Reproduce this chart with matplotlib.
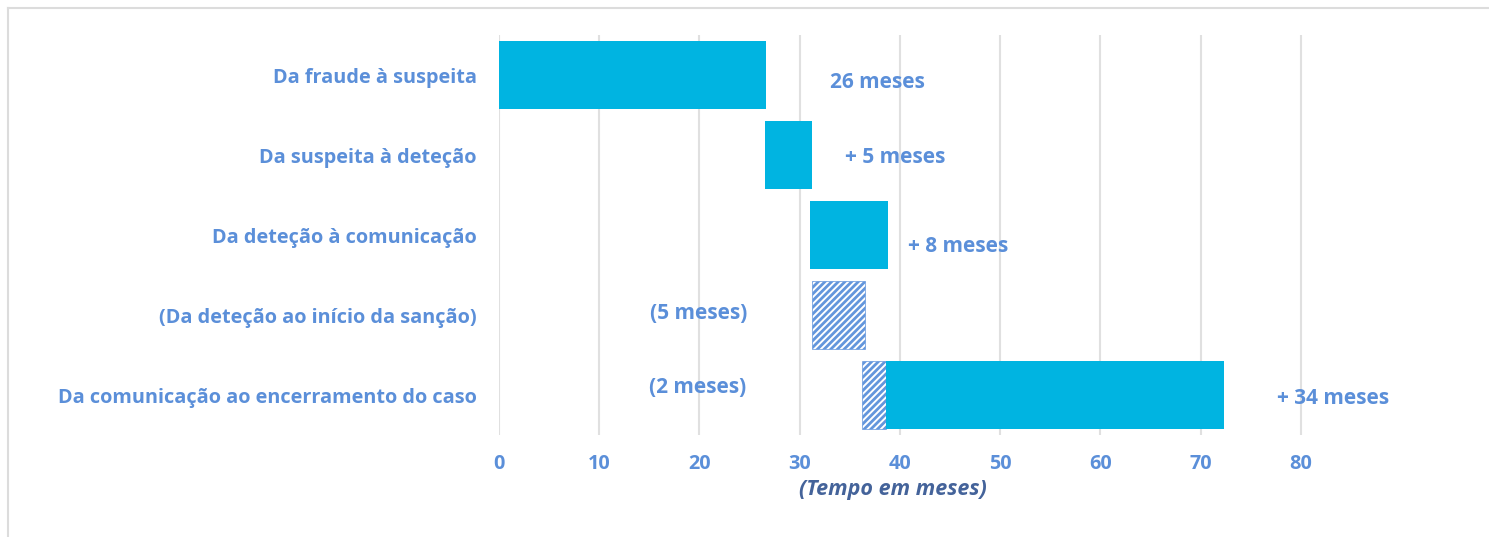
import matplotlib.pyplot as plt
from matplotlib.lines import Line2D

plt.rcParams['hatch.linewidth'] = 2.0

etapas = ["Da fraude à suspeita", "Da suspeita à deteção", "Da deteção à comunicação",
          "(Da deteção ao início da sanção)", "Da comunicação ao encerramento do caso"]
inicio = [0, 26.5, 31.0, 31.2, 38.6]
duracao = [26.6, 4.7, 7.8, 5.3, 33.7]
tracejado = [False, False, False, True, False]
# pedaço tracejado sobreposto na última linha
extra_linha = 4
extra_inicio = 36.2
extra_duracao = 2.4

rotulos = ["26 meses", "+ 5 meses", "+ 8 meses", "(5 meses)", "(2 meses)", "+ 34 meses"]
rot_x = [37.8, 39.5, 45.8, 19.9, 19.8, 83.2]
rot_y = [0.09, 1.03, 2.14, 2.98, 3.91, 4.05]

azul = "#00b4e1"
texto = "#5b8fd9"
hach = "#6396dc"

fig = plt.figure(figsize=(14.89, 5.37), dpi=100)
ax = fig.add_axes([499 / 1489, 1 - 435 / 537, (1391 - 499) / 1489, 400 / 537])

for i in range(len(etapas)):
    if tracejado[i]:
        ax.barh(i, duracao[i], left=inicio[i], height=0.84, color="white",
                edgecolor=hach, hatch="/////", linewidth=0.5, zorder=3)
    else:
        ax.barh(i, duracao[i], left=inicio[i], height=0.84, color=azul, zorder=3)
ax.barh(extra_linha, extra_duracao, left=extra_inicio, height=0.84, color="white",
        edgecolor=hach, hatch="/////", linewidth=0.5, zorder=2)

for t, x, y in zip(rotulos, rot_x, rot_y):
    ax.text(x, y, t, ha="center", va="center", color=texto, fontsize=15,
            fontweight="bold", family="Open Sans", clip_on=False)

ax.set_xlim(0, 89)
ax.set_ylim(4.5, -0.5)
ax.set_xticks(range(0, 81, 10))
ax.set_yticks(range(len(etapas)))
ax.set_yticklabels(etapas)
for lab in ax.get_xticklabels() + ax.get_yticklabels():
    lab.set_color(texto)
    lab.set_fontweight("bold")
    lab.set_fontsize(14.3)
    lab.set_family("Open Sans")
ax.tick_params(axis="y", length=0, pad=16)
ax.tick_params(axis="x", length=0, pad=14)
ax.grid(axis="x", color="#e0e0e0", linewidth=1.5, zorder=0)
for s in ax.spines.values():
    s.set_visible(False)

fig.text(893 / 1489, 1 - 490 / 537, "(Tempo em meses)", ha="center", va="center",
         color="#44639a", fontsize=15.5, fontweight="bold", style="italic", family="Open Sans")

# moldura cinza (topo e esquerda)
fig.add_artist(Line2D([8 / 1489, 1], [1 - 8 / 537, 1 - 8 / 537], color="#dcdcdc", linewidth=1.5))
fig.add_artist(Line2D([8 / 1489, 8 / 1489], [0, 1 - 8 / 537], color="#dcdcdc", linewidth=1.5))

fig.savefig("out.png", dpi=100)
